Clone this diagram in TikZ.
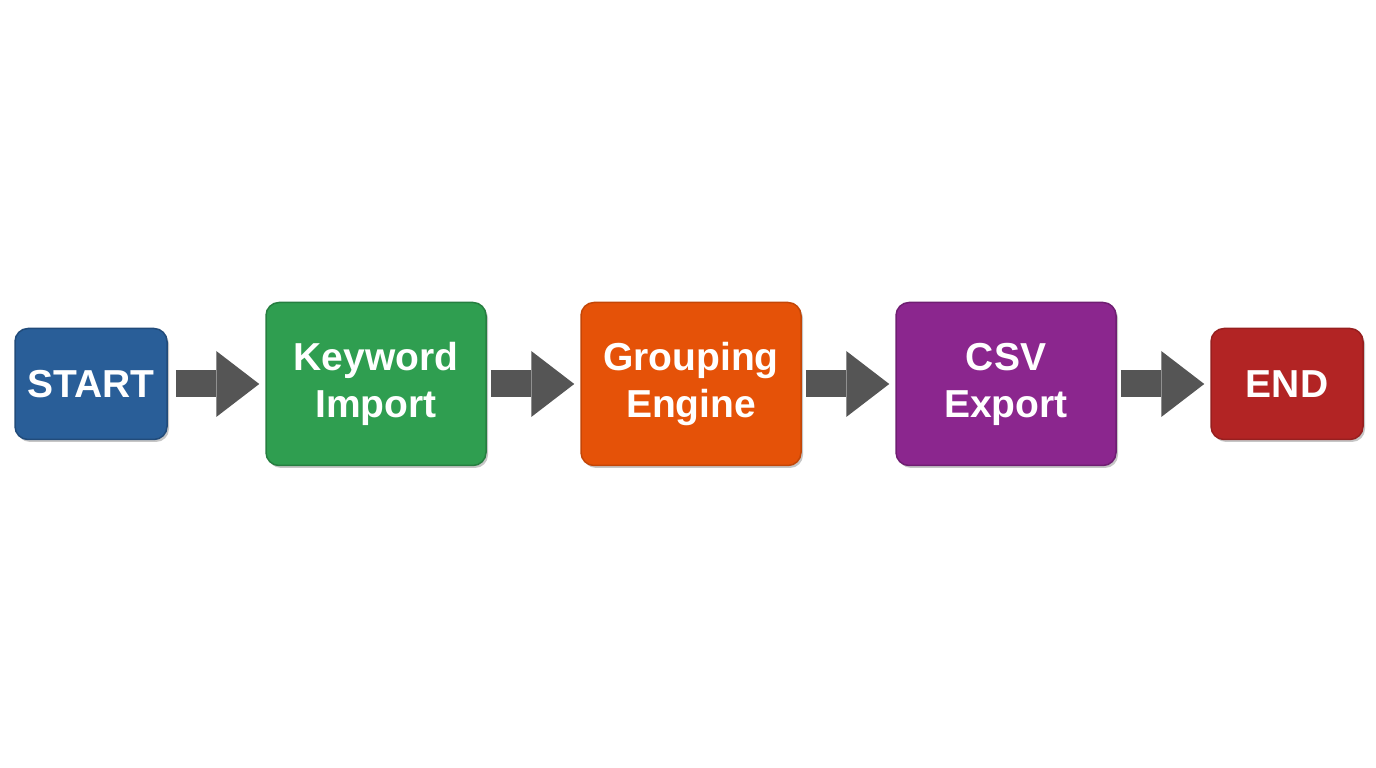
\documentclass[tikz,border=0pt]{standalone}
\usepackage{fontspec}
\setmainfont{Liberation Sans}
\usepackage{tikz}
\usetikzlibrary{arrows.meta}
\usetikzlibrary{shadows}

\definecolor{startblue}{RGB}{41,94,152}
\definecolor{keygreen}{RGB}{47,158,80}
\definecolor{grouporange}{RGB}{229,82,8}
\definecolor{csvpurple}{RGB}{139,38,142}
\definecolor{endred}{RGB}{178,36,36}
\definecolor{flowgray}{RGB}{85,85,85}

\begin{document}
\begin{tikzpicture}[x=1pt,y=1pt,
    box/.style={rounded corners=13pt,line width=1.5pt,text=white,align=center,
      font=\fontsize{39}{47}\selectfont\bfseries,inner sep=0pt,
      drop shadow={shadow xshift=2pt,shadow yshift=-2.5pt,opacity=0.45}},
    endbox/.style={box,minimum width=152pt,minimum height=111pt},
    stepbox/.style={box,minimum width=220pt,minimum height=163pt},
    flow/.style={line width=27pt,flowgray,-{Triangle[length=43pt 0 0,width=66pt 0 0,line width=0pt 0 0]}}]
 	\useasboundingbox (0,0) rectangle (1376,768);
 	\node[endbox,fill=startblue,draw=startblue!80!black] (start) at (91,384) {START};
 	\node[stepbox,fill=keygreen,draw=keygreen!80!black] (import) at (376,384) {Keyword\\Import};
 	\node[stepbox,fill=grouporange,draw=grouporange!85!black] (group) at (691,384) {Grouping\\Engine};
 	\node[stepbox,fill=csvpurple,draw=csvpurple!80!black] (export) at (1006,384) {CSV\\Export};
 	\node[endbox,fill=endred,draw=endred!85!black] (end) at (1287,384) {END};
 	\draw[flow] ([xshift=8pt]start.east) -- ([xshift=-6pt]import.west);
 	\draw[flow] ([xshift=4pt]import.east) -- ([xshift=-6pt]group.west);
 	\draw[flow] ([xshift=4pt]group.east) -- ([xshift=-6pt]export.west);
 	\draw[flow] ([xshift=4pt]export.east) -- ([xshift=-6pt]end.west);
\end{tikzpicture}
\end{document}
